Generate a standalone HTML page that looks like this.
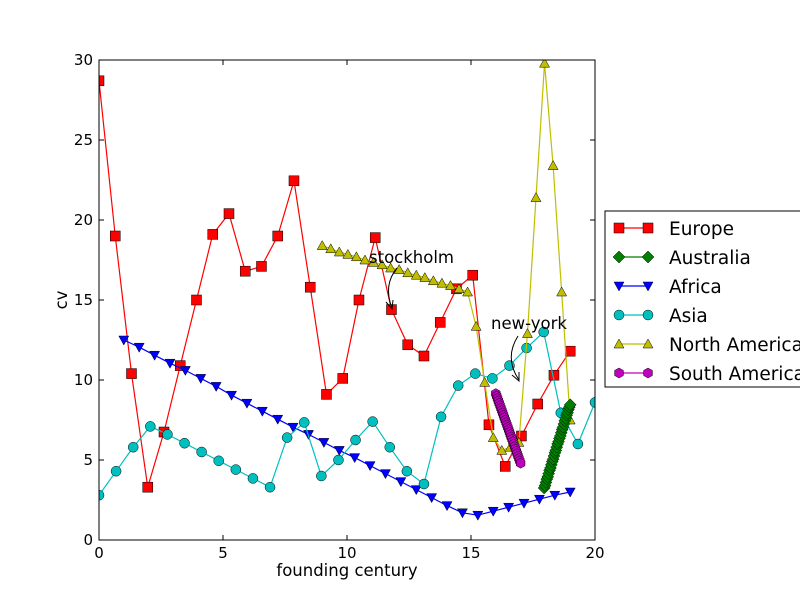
<!DOCTYPE html>
<html><head><meta charset="utf-8"><style>
body{margin:0;background:#fff;}
svg{display:block;font-family:"DejaVu Sans","Liberation Sans",sans-serif;}
</style></head><body>
<svg id="chart" width="800" height="600">
<rect width="800" height="600" fill="#fff"/>
</svg>
<script>
const xTicks=[0,5,10,15,20];
const yTicks=[0,5,10,15,20,25,30];
const europeY=[28.7,19.0,10.4,3.3,6.75,10.9,15.0,19.1,20.4,16.8,17.1,19.0,22.45,15.8,9.1,10.1,15.0,18.9,14.4,12.2,11.5,13.6,15.7,16.55,7.2,4.6,6.5,8.5,10.3,11.8];
const africaY=[12.5,12.05,11.55,11.05,10.6,10.1,9.6,9.05,8.55,8.05,7.55,7.05,6.6,6.1,5.6,5.15,4.65,4.15,3.65,3.15,2.65,2.15,1.7,1.55,1.8,2.05,2.3,2.55,2.8,3.0];
const asiaY=[2.8,4.3,5.8,7.1,6.6,6.05,5.5,4.95,4.4,3.85,3.3,6.4,7.35,4.0,5.0,6.25,7.4,5.8,4.3,3.5,7.7,9.65,10.4,10.1,10.9,12.0,13.0,7.95,6.0,8.6];
const northAmY=[18.4,18.2,18.0,17.85,17.7,17.5,17.35,17.2,17.0,16.9,16.7,16.55,16.4,16.2,16.05,15.9,15.7,15.5,13.35,9.85,6.4,5.6,5.8,6.1,12.9,21.4,29.8,23.4,15.5,7.5];
const southAmY=[9.15,9.0,8.85,8.7,8.55,8.4,8.25,8.1,7.95,7.8,7.65,7.5,7.35,7.2,7.05,6.9,6.75,6.6,6.45,6.3,6.15,6.0,5.85,5.7,5.55,5.4,5.25,5.1,4.95,4.8];
const australiaY=[3.25,3.4,3.6,3.8,3.95,4.15,4.35,4.5,4.7,4.9,5.05,5.25,5.45,5.6,5.8,6.0,6.15,6.35,6.5,6.7,6.9,7.05,7.25,7.45,7.6,7.8,7.95,8.15,8.3,8.45];
const seriesNames=["Europe","Australia","Africa","Asia","North America","South America"];
const X0=99,X1=595,Y0=540,Y1=60;
function sx(v){return X0+(v-0)/(20-0)*(X1-X0);}
function sy(v){return Y0-(v-0)/(30-0)*(Y0-Y1);}
function lin(a,b,n,i){return a+(b-a)*i/(n-1);}
const svg=document.getElementById('chart');
const NS='http://www.w3.org/2000/svg';
function mk(tag,attrs,parent){const e=document.createElementNS(NS,tag);for(const k in attrs)e.setAttribute(k,attrs[k]);(parent||svg).appendChild(e);return e;}
function marker(g,type,x,y,fill){
  if(type==='s')return mk('rect',{x:x-5,y:y-5,width:10,height:10,fill:fill,stroke:'#000','stroke-width':0.5},g);
  if(type==='o')return mk('circle',{cx:x,cy:y,r:5,fill:fill,stroke:'#000','stroke-width':0.5},g);
  if(type==='v')return mk('polygon',{points:`${x-5},${y-4} ${x+5},${y-4} ${x},${y+5}`,fill:fill,stroke:'#000','stroke-width':0.5},g);
  if(type==='^')return mk('polygon',{points:`${x-5},${y+4} ${x+5},${y+4} ${x},${y-5}`,fill:fill,stroke:'#000','stroke-width':0.5},g);
  if(type==='D')return mk('polygon',{points:`${x},${y-6} ${x+6},${y} ${x},${y+6} ${x-6},${y}`,fill:fill,stroke:'#000','stroke-width':0.5},g);
  if(type==='h')return mk('polygon',{points:`${x},${y-5} ${x+4.4},${y-2.5} ${x+4.4},${y+2.5} ${x},${y+5} ${x-4.4},${y+2.5} ${x-4.4},${y-2.5}`,fill:fill,stroke:'#000','stroke-width':0.5},g);
}
const series=[
 {name:'europe',ys:europeY,x0:0,x1:19,color:'#ff0000',m:'s'},
 {name:'africa',ys:africaY,x0:1,x1:19,color:'#0000ff',m:'v'},
 {name:'asia',ys:asiaY,x0:0,x1:20,color:'#00bfbf',m:'o'},
 {name:'north-america',ys:northAmY,x0:9,x1:19,color:'#bfbf00',m:'^'},
 {name:'south-america',ys:southAmY,x0:16,x1:17,color:'#bf00bf',m:'h'},
 {name:'australia',ys:australiaY,x0:17.95,x1:19,color:'#007f00',m:'D'}
];
const clip=mk('clipPath',{id:'pc'});mk('rect',{x:X0,y:Y1,width:X1-X0,height:Y0-Y1},clip);
const plot=mk('g',{'clip-path':'url(#pc)'});


series.forEach(s=>{
  const g=mk('g',{},plot);
  
  
  const n=s.ys.length;
  const pts=s.ys.map((v,i)=>[sx(lin(s.x0,s.x1,n,i)),sy(v)]);
  const l=mk('polyline',{points:pts.map(p=>p.join(',')).join(' '),fill:'none',stroke:s.color,'stroke-width':1.2},g);
  
  
  pts.forEach((p,i)=>{const mm=marker(g,s.m,p[0],p[1],s.color);
    
    });
});
const fr=mk('rect',{x:X0,y:Y1,width:X1-X0,height:Y0-Y1,fill:'none',stroke:'#000','stroke-width':1});


xTicks.forEach(t=>{const x=sx(t);
  mk('line',{x1:x,y1:Y0,x2:x,y2:Y0-5,stroke:'#000'});mk('line',{x1:x,y1:Y1,x2:x,y2:Y1+5,stroke:'#000'});
  const tx=mk('text',{x:x,y:Y0+18,'text-anchor':'middle','font-size':15});tx.textContent=t;
  
  });
yTicks.forEach(t=>{const y=sy(t);
  mk('line',{x1:X0,y1:y,x2:X0+5,y2:y,stroke:'#000'});mk('line',{x1:X1,y1:y,x2:X1-5,y2:y,stroke:'#000'});
  const tx=mk('text',{x:X0-6,y:y+5,'text-anchor':'end','font-size':15});tx.textContent=t;
  
  });
let t=mk('text',{x:347,y:576,'text-anchor':'middle','font-size':16.5});t.textContent='founding century';


t=mk('text',{x:0,y:0,'text-anchor':'middle','font-size':16.5,transform:'translate(67,300) rotate(-90)'});t.textContent='cv';


t=mk('text',{x:369,y:263,'font-size':16.5});t.textContent='stockholm';


mk('path',{d:'M397,268 Q383,285 392,308',fill:'none',stroke:'#000','stroke-width':1});
mk('path',{d:'M386,302 L392,309 L393,300',fill:'none',stroke:'#000','stroke-width':1});
t=mk('text',{x:491,y:329,'font-size':16.5});t.textContent='new-york';


mk('path',{d:'M518,336 Q504,358 519,380',fill:'none',stroke:'#000','stroke-width':1});
mk('path',{d:'M512,375 L519,381 L519,372',fill:'none',stroke:'#000','stroke-width':1});
const lg=mk('g',{});


mk('rect',{x:605,y:211,width:200,height:176,fill:'#fff',stroke:'#000','stroke-width':1},lg);
const lgOrder=[['Europe','#ff0000','s'],['Australia','#007f00','D'],['Africa','#0000ff','v'],['Asia','#00bfbf','o'],['North America','#bfbf00','^'],['South America','#bf00bf','h']];
lgOrder.forEach((e,i)=>{const y=228+i*29;
  const eg=mk('g',{},lg);
  
  
  mk('line',{x1:619,y1:y,x2:648,y2:y,stroke:e[1],'stroke-width':1.2},eg);
  marker(eg,e[2],619,y,e[1]);marker(eg,e[2],648,y,e[1]);
  const tx=mk('text',{x:669,y:y+7,'font-size':18.5},eg);tx.textContent=e[0];});
</script>
</body></html>
